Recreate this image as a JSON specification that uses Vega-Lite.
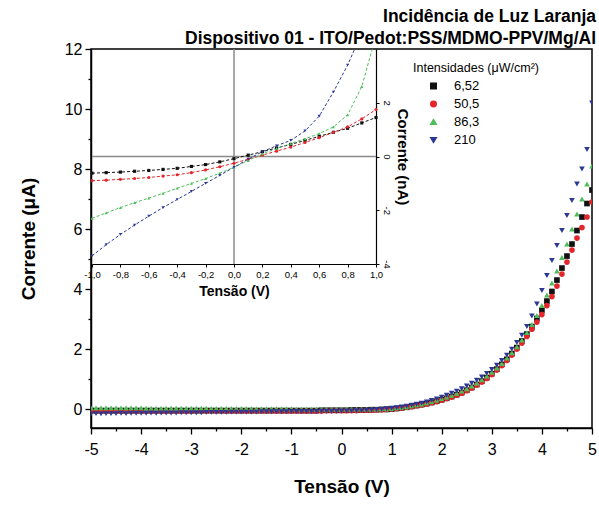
{
"$schema":"https://vega.github.io/schema/vega-lite/v6.json",
"width":501,"height":379,
"autosize":{"type":"none"},
"padding":{"left":91,"top":49,"right":7,"bottom":80},
"background":"white",
"config":{"view":{"stroke":"black","strokeWidth":1.5},"font":"Liberation Sans","axis":{"domainColor":"black","tickColor":"black","labelColor":"black","titleColor":"black","grid":false,"domainWidth":1.5,"tickWidth":1.3},"legend":{"labelColor":"black","titleColor":"black"}},
"title":{"text":["Incidência de Luz Laranja","Dispositivo 01 - ITO/Pedot:PSS/MDMO-PPV/Mg/Al"],"anchor":"end","frame":"group","fontSize":17.5,"fontWeight":"bold","font":"Liberation Sans","offset":-6,"lineHeight":22,"dx":4,"color":"black"},
"datasets":{
"main":[
{"v":-5.0,"a":-0.05,"b":-0.07,"c":0.04,"d":-0.16},
{"v":-4.9,"a":-0.05,"b":-0.07,"c":0.04,"d":-0.15},
{"v":-4.8,"a":-0.05,"b":-0.07,"c":0.04,"d":-0.16},
{"v":-4.7,"a":-0.05,"b":-0.07,"c":0.04,"d":-0.15},
{"v":-4.6,"a":-0.05,"b":-0.07,"c":0.04,"d":-0.15},
{"v":-4.5,"a":-0.05,"b":-0.07,"c":0.04,"d":-0.15},
{"v":-4.4,"a":-0.05,"b":-0.07,"c":0.04,"d":-0.14},
{"v":-4.3,"a":-0.05,"b":-0.07,"c":0.04,"d":-0.15},
{"v":-4.2,"a":-0.05,"b":-0.07,"c":0.04,"d":-0.14},
{"v":-4.1,"a":-0.05,"b":-0.07,"c":0.04,"d":-0.14},
{"v":-4.0,"a":-0.05,"b":-0.07,"c":0.04,"d":-0.14},
{"v":-3.9,"a":-0.05,"b":-0.07,"c":0.03,"d":-0.14},
{"v":-3.8,"a":-0.05,"b":-0.07,"c":0.03,"d":-0.13},
{"v":-3.7,"a":-0.05,"b":-0.07,"c":0.03,"d":-0.14},
{"v":-3.6,"a":-0.05,"b":-0.07,"c":0.03,"d":-0.13},
{"v":-3.5,"a":-0.05,"b":-0.07,"c":0.03,"d":-0.13},
{"v":-3.4,"a":-0.05,"b":-0.07,"c":0.03,"d":-0.13},
{"v":-3.3,"a":-0.05,"b":-0.07,"c":0.03,"d":-0.13},
{"v":-3.2,"a":-0.05,"b":-0.07,"c":0.03,"d":-0.12},
{"v":-3.1,"a":-0.05,"b":-0.07,"c":0.03,"d":-0.12},
{"v":-3.0,"a":-0.05,"b":-0.07,"c":0.03,"d":-0.12},
{"v":-2.9,"a":-0.05,"b":-0.06,"c":0.03,"d":-0.12},
{"v":-2.8,"a":-0.05,"b":-0.06,"c":0.03,"d":-0.12},
{"v":-2.7,"a":-0.05,"b":-0.06,"c":0.03,"d":-0.11},
{"v":-2.6,"a":-0.05,"b":-0.06,"c":0.02,"d":-0.11},
{"v":-2.5,"a":-0.05,"b":-0.06,"c":0.02,"d":-0.11},
{"v":-2.4,"a":-0.05,"b":-0.06,"c":0.02,"d":-0.11},
{"v":-2.3,"a":-0.05,"b":-0.06,"c":0.02,"d":-0.11},
{"v":-2.2,"a":-0.05,"b":-0.06,"c":0.02,"d":-0.1},
{"v":-2.1,"a":-0.05,"b":-0.06,"c":0.02,"d":-0.1},
{"v":-2.0,"a":-0.05,"b":-0.06,"c":0.02,"d":-0.1},
{"v":-1.9,"a":-0.05,"b":-0.06,"c":0.02,"d":-0.1},
{"v":-1.8,"a":-0.05,"b":-0.06,"c":0.02,"d":-0.1},
{"v":-1.7,"a":-0.05,"b":-0.06,"c":0.01,"d":-0.1},
{"v":-1.6,"a":-0.05,"b":-0.06,"c":0.01,"d":-0.09},
{"v":-1.5,"a":-0.05,"b":-0.06,"c":0.01,"d":-0.09},
{"v":-1.4,"a":-0.05,"b":-0.06,"c":0.01,"d":-0.09},
{"v":-1.3,"a":-0.05,"b":-0.06,"c":0.01,"d":-0.09},
{"v":-1.2,"a":-0.05,"b":-0.06,"c":0.01,"d":-0.09},
{"v":-1.1,"a":-0.05,"b":-0.06,"c":0.01,"d":-0.09},
{"v":-1.0,"a":-0.05,"b":-0.06,"c":0.01,"d":-0.08},
{"v":-0.9,"a":-0.05,"b":-0.06,"c":0.0,"d":-0.08},
{"v":-0.8,"a":-0.05,"b":-0.06,"c":0.0,"d":-0.08},
{"v":-0.7,"a":-0.05,"b":-0.06,"c":0.0,"d":-0.08},
{"v":-0.6,"a":-0.05,"b":-0.06,"c":0.0,"d":-0.08},
{"v":-0.5,"a":-0.05,"b":-0.06,"c":0.0,"d":-0.08},
{"v":-0.4,"a":-0.04,"b":-0.06,"c":0.0,"d":-0.07},
{"v":-0.3,"a":-0.04,"b":-0.05,"c":0.0,"d":-0.07},
{"v":-0.2,"a":-0.04,"b":-0.05,"c":0.0,"d":-0.07},
{"v":-0.1,"a":-0.04,"b":-0.05,"c":0.0,"d":-0.07},
{"v":0.0,"a":-0.04,"b":-0.05,"c":0.0,"d":-0.06},
{"v":0.1,"a":-0.04,"b":-0.05,"c":0.0,"d":-0.06},
{"v":0.2,"a":-0.03,"b":-0.05,"c":0.0,"d":-0.06},
{"v":0.3,"a":-0.03,"b":-0.05,"c":0.0,"d":-0.05},
{"v":0.4,"a":-0.03,"b":-0.04,"c":0.0,"d":-0.05},
{"v":0.5,"a":-0.03,"b":-0.04,"c":0.0,"d":-0.04},
{"v":0.6,"a":-0.02,"b":-0.04,"c":0.0,"d":-0.03},
{"v":0.7,"a":-0.02,"b":-0.03,"c":0.0,"d":-0.02},
{"v":0.8,"a":-0.01,"b":-0.02,"c":0.01,"d":-0.01},
{"v":0.9,"a":-0.01,"b":-0.01,"c":0.01,"d":0.01},
{"v":1.0,"a":0.0,"b":0.0,"c":0.02,"d":0.03},
{"v":1.1,"a":0.02,"b":0.02,"c":0.04,"d":0.05},
{"v":1.2,"a":0.04,"b":0.04,"c":0.06,"d":0.07},
{"v":1.3,"a":0.06,"b":0.06,"c":0.08,"d":0.1},
{"v":1.4,"a":0.09,"b":0.08,"c":0.11,"d":0.13},
{"v":1.5,"a":0.12,"b":0.11,"c":0.14,"d":0.16},
{"v":1.6,"a":0.15,"b":0.14,"c":0.17,"d":0.2},
{"v":1.7,"a":0.18,"b":0.17,"c":0.21,"d":0.24},
{"v":1.8,"a":0.22,"b":0.21,"c":0.25,"d":0.29},
{"v":1.9,"a":0.26,"b":0.25,"c":0.3,"d":0.34},
{"v":2.0,"a":0.31,"b":0.3,"c":0.35,"d":0.4},
{"v":2.1,"a":0.36,"b":0.35,"c":0.4,"d":0.46},
{"v":2.2,"a":0.42,"b":0.4,"c":0.46,"d":0.53},
{"v":2.3,"a":0.48,"b":0.46,"c":0.53,"d":0.6},
{"v":2.4,"a":0.55,"b":0.53,"c":0.6,"d":0.68},
{"v":2.5,"a":0.63,"b":0.61,"c":0.68,"d":0.77},
{"v":2.6,"a":0.72,"b":0.7,"c":0.77,"d":0.86},
{"v":2.7,"a":0.82,"b":0.8,"c":0.87,"d":0.96},
{"v":2.8,"a":0.93,"b":0.9,"c":0.98,"d":1.07},
{"v":2.9,"a":1.05,"b":1.02,"c":1.1,"d":1.19},
{"v":3.0,"a":1.18,"b":1.15,"c":1.23,"d":1.32},
{"v":3.1,"a":1.33,"b":1.3,"c":1.37,"d":1.46},
{"v":3.2,"a":1.49,"b":1.45,"c":1.52,"d":1.62},
{"v":3.3,"a":1.66,"b":1.62,"c":1.7,"d":1.8},
{"v":3.4,"a":1.85,"b":1.8,"c":1.88,"d":2.0},
{"v":3.5,"a":2.05,"b":2.0,"c":2.08,"d":2.22},
{"v":3.6,"a":2.27,"b":2.2,"c":2.3,"d":2.46},
{"v":3.7,"a":2.5,"b":2.42,"c":2.55,"d":2.75},
{"v":3.8,"a":2.75,"b":2.66,"c":2.82,"d":3.1},
{"v":3.9,"a":3.02,"b":2.9,"c":3.12,"d":3.5},
{"v":4.0,"a":3.3,"b":3.15,"c":3.45,"d":3.95},
{"v":4.1,"a":3.6,"b":3.45,"c":3.8,"d":4.45},
{"v":4.2,"a":3.92,"b":3.75,"c":4.2,"d":4.95},
{"v":4.3,"a":4.3,"b":4.1,"c":4.6,"d":5.45},
{"v":4.4,"a":4.7,"b":4.5,"c":5.05,"d":5.95},
{"v":4.5,"a":5.1,"b":4.9,"c":5.5,"d":6.45},
{"v":4.6,"a":5.5,"b":5.3,"c":6.0,"d":6.95},
{"v":4.7,"a":5.95,"b":5.7,"c":6.5,"d":7.5},
{"v":4.8,"a":6.4,"b":6.05,"c":7.0,"d":8.0},
{"v":4.9,"a":6.85,"b":6.4,"c":7.5,"d":8.65},
{"v":5.0,"a":7.3,"b":6.9,"c":8.1,"d":10.2}
],
"inset":[
{"v":-1.0,"a":-0.62,"b":-0.9,"c":-2.3,"d":-3.7},
{"v":-0.9,"a":-0.6,"b":-0.88,"c":-2.1,"d":-3.28},
{"v":-0.8,"a":-0.58,"b":-0.85,"c":-1.9,"d":-2.9},
{"v":-0.7,"a":-0.55,"b":-0.82,"c":-1.72,"d":-2.55},
{"v":-0.6,"a":-0.52,"b":-0.78,"c":-1.55,"d":-2.22},
{"v":-0.5,"a":-0.48,"b":-0.73,"c":-1.37,"d":-1.9},
{"v":-0.4,"a":-0.44,"b":-0.68,"c":-1.18,"d":-1.6},
{"v":-0.3,"a":-0.37,"b":-0.6,"c":-1.0,"d":-1.3},
{"v":-0.2,"a":-0.3,"b":-0.5,"c":-0.82,"d":-1.0},
{"v":-0.1,"a":-0.2,"b":-0.38,"c":-0.62,"d":-0.7},
{"v":0.0,"a":-0.08,"b":-0.25,"c":-0.4,"d":-0.4},
{"v":0.1,"a":0.05,"b":-0.1,"c":-0.15,"d":-0.1},
{"v":0.2,"a":0.18,"b":0.05,"c":0.1,"d":0.18},
{"v":0.3,"a":0.32,"b":0.2,"c":0.3,"d":0.4},
{"v":0.4,"a":0.45,"b":0.35,"c":0.48,"d":0.6},
{"v":0.5,"a":0.6,"b":0.52,"c":0.66,"d":0.95},
{"v":0.6,"a":0.75,"b":0.7,"c":0.85,"d":1.5},
{"v":0.7,"a":0.9,"b":0.9,"c":1.1,"d":2.4},
{"v":0.8,"a":1.05,"b":1.1,"c":1.55,"d":3.4},
{"v":0.9,"a":1.25,"b":1.4,"c":2.6,"d":4.6},
{"v":1.0,"a":1.45,"b":1.75,"c":4.5,"d":6.2}
]
},
"layer":[
{
"data":{"name":"main"},
"transform":[{"fold":["a","b","c","d"],"as":["s","i"]}],
"mark":{"type":"point","filled":true,"size":32,"opacity":1,"clip":true},
"encoding":{
"x":{"field":"v","type":"quantitative","scale":{"domain":[-5,5],"nice":false,"zero":false},
"axis":{"values":[-5,-4.5,-4,-3.5,-3,-2.5,-2,-1.5,-1,-0.5,0,0.5,1,1.5,2,2.5,3,3.5,4,4.5,5],"labelExpr":"datum.value % 1 === 0 ? replace(format(datum.value,'d'),'−','-') : ''","tickSize":{"condition":{"test":"datum.value % 1 === 0","value":6},"value":3},"labelFontSize":16,"labelPadding":7,"labelFlush":false,"labelOverlap":false,"title":"Tensão (V)","titleFontSize":19,"titleFontWeight":"bold","titlePadding":20}},
"y":{"field":"i","type":"quantitative","scale":{"domain":[-0.63,12],"nice":false,"zero":false},
"axis":{"values":[0,1,2,3,4,5,6,7,8,9,10,11,12],"labelExpr":"datum.value % 2 === 0 ? datum.label : ''","tickSize":{"condition":{"test":"datum.value % 2 === 0","value":6},"value":3},"labelFontSize":16,"labelPadding":3,"labelFlush":false,"labelOverlap":false,"title":"Corrente (μA)","titleFontSize":19,"titleFontWeight":"bold","titlePadding":26}},
"color":{"field":"s","type":"nominal","scale":{"domain":["a","b","c","d"],"range":["#111111","#e3262b","#4dbe5a","#2b3896"]},
"legend":{"orient":"none","legendX":322,"legendY":13,"title":"Intensidades (μW/cm²)","titleFontSize":12.5,"titleFontWeight":"normal","labelFontSize":13,"symbolSize":30,"rowPadding":4,"symbolOffset":14,"labelOffset":14,"titlePadding":5,"padding":0,"labelExpr":"datum.label == 'a' ? '6,52' : datum.label == 'b' ? '50,5' : datum.label == 'c' ? '86,3' : '210'"}},
"shape":{"field":"s","type":"nominal","scale":{"domain":["a","b","c","d"],"range":["square","circle","triangle-up","triangle-down"]},
"legend":{"orient":"none","legendX":322,"legendY":13,"title":"Intensidades (μW/cm²)","titleFontSize":12.5,"titleFontWeight":"normal","labelFontSize":13,"symbolSize":30,"rowPadding":4,"symbolOffset":14,"labelOffset":14,"titlePadding":5,"padding":0,"labelExpr":"datum.label == 'a' ? '6,52' : datum.label == 'b' ? '50,5' : datum.label == 'c' ? '86,3' : '210'"}}
}
},
{
"encoding":{
"x":{"field":"v","type":"quantitative","scale":{"domain":[-1,1],"range":[1,285],"nice":false,"zero":false},
"axis":{"orient":"bottom","offset":-164,"values":[-1,-0.8,-0.6,-0.4,-0.2,0,0.2,0.4,0.6,0.8,1],"labelExpr":"replace(replace(format(datum.value,'.1f'),'.',','),'−','-')","labelFontSize":9.5,"tickSize":3,"labelPadding":2,"labelFlush":false,"labelOverlap":false,"title":"Tensão (V)","titleFontSize":14,"titleFontWeight":"bold","titlePadding":6,"domainWidth":1.2,"tickWidth":1}},
"y":{"field":"i","type":"quantitative","scale":{"domain":[-4,4],"range":[215,0],"nice":false,"zero":false},
"axis":{"orient":"right","offset":-216,"values":[-4,-2,0,2],"labelExpr":"replace(datum.label,'−','-')","labelAngle":90,"labelAlign":"center","labelBaseline":"bottom","labelFontSize":9.5,"tickSize":3,"labelPadding":2,"labelFlush":false,"labelOverlap":false,"title":"Corrente (nA)","titleFontSize":15,"titleFontWeight":"bold","titleAngle":90,"titlePadding":3,"domainWidth":1.2,"tickWidth":1}}
},
"layer":[
{"data":{"values":[{"v":0,"i":-4,"i2":4}]},"mark":{"type":"rule","color":"#8a8a8a","strokeWidth":1.5},"encoding":{"y2":{"field":"i2"}}},
{"data":{"values":[{"v":-1,"v2":1,"i":0}]},"mark":{"type":"rule","color":"#8a8a8a","strokeWidth":1.5},"encoding":{"x2":{"field":"v2"}}},
{"data":{"name":"inset"},"transform":[{"fold":["a","b","c","d"],"as":["s","i"]}],"mark":{"type":"line","strokeDash":[3,2],"strokeWidth":1,"clip":true},"encoding":{"color":{"field":"s","type":"nominal"}}},
{"data":{"name":"inset"},"transform":[{"fold":["a","b","c","d"],"as":["s","i"]}],"mark":{"type":"point","filled":true,"size":10,"opacity":1,"clip":true},"encoding":{"color":{"field":"s","type":"nominal"},"shape":{"field":"s","type":"nominal"}}}
]
}
],
"resolve":{"scale":{"x":"independent","y":"independent"}}
}
